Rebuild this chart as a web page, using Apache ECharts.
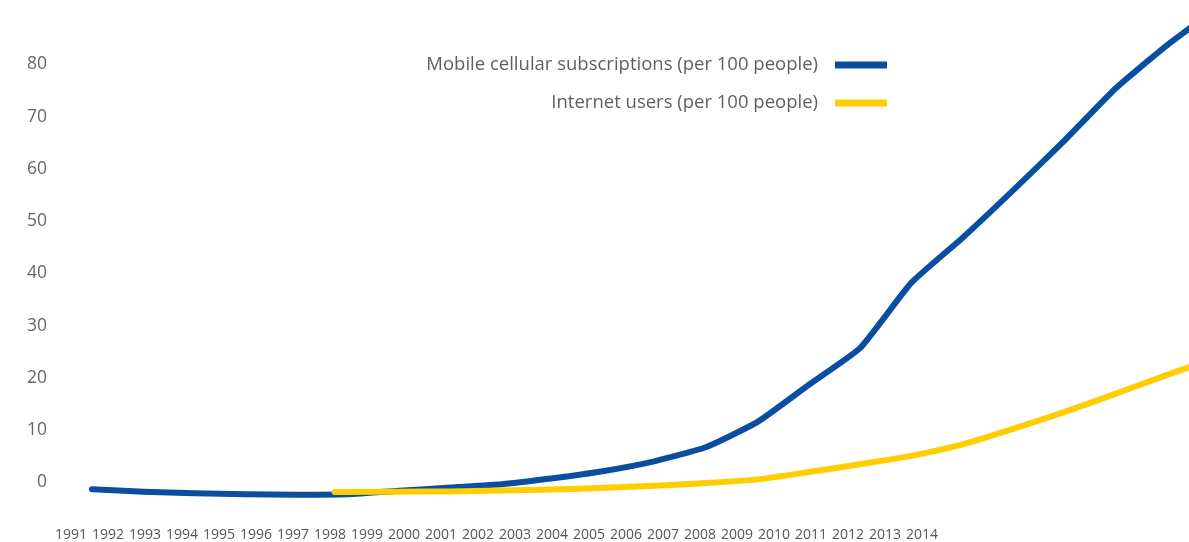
<!DOCTYPE html>
<html>
<head>
<meta charset="utf-8">
<script src="https://cdn.jsdelivr.net/npm/echarts@6/dist/echarts.min.js"></script>
<style>html,body{margin:0;padding:0;background:#fff}#c{width:1189px;height:542px}</style>
</head>
<body>
<div id="c"></div>
<script>
var yearLabels = ['1991','1992','1993','1994','1995','1996','1997','1998','1999','2000','2001','2002','2003','2004','2005','2006','2007','2008','2009','2010','2011','2012','2013','2014'];
var mobileYears = [1991,1992,1993,1994,1995,1996,1997,1998,1999,2000,2001,2002,2003,2004,2005,2006,2007,2008,2009,2010,2011,2012,2013];
var mobileValues = [-1.3,-1.75,-2.05,-2.25,-2.33,-2.25,-1.6,-0.95,-0.35,0.8,2.2,4.1,6.8,11.6,18.7,25.7,38.2,46.8,56,65.5,75.5,83.7,91];
var internetYears = [1995.74,1996,1997,1998,1999,2000,2001,2002,2003,2004,2005,2006,2007,2008,2009,2010,2011,2012,2013];
var internetValues = [-1.8,-1.8,-1.78,-1.7,-1.55,-1.35,-1.0,-0.6,-0.1,0.6,2.0,3.5,5.1,7.3,10.3,13.5,17.0,20.6,24.0];
var yTicks = [0,10,20,30,40,50,60,70,80];

function pairs(xs, ys){ return xs.map(function(x,i){ return [x, ys[i]]; }); }

var chart = echarts.init(document.getElementById('c'));
chart.setOption({
  animation: false,
  textStyle: { fontFamily: 'Open Sans' },
  grid: [
    { left: 92, right: 0, top: 12.25, bottom: 7.25 },
    { left: 52.5, width: 888, top: 520, height: 1 }
  ],
  legend: {
    orient: 'vertical',
    align: 'right',
    right: 297,
    top: 50,
    itemWidth: 52,
    itemHeight: 7,
    itemGap: 18,
    icon: 'rect',
    textStyle: { fontSize: 18.5, color: '#5f5f5f', lineHeight: 20, padding: [0, 12, 0, 0], fontFamily: 'Open Sans' },
    data: ['Mobile cellular subscriptions (per 100 people)', 'Internet users (per 100 people)']
  },
  xAxis: [
    { type: 'value', gridIndex: 0, min: 1991, max: 1991 + 1097/51.2, show: false, splitLine: { show: false } },
    { type: 'category', gridIndex: 1, data: yearLabels, boundaryGap: true,
      axisLine: { show: false }, axisTick: { show: false },
      axisLabel: { fontSize: 14, color: '#555', margin: 8, interval: 0, fontFamily: 'Open Sans' } }
  ],
  yAxis: [
    { type: 'value', gridIndex: 0, min: -10, max: 90, interval: 10,
      axisLine: { show: false }, axisTick: { show: false }, splitLine: { show: false },
      axisLabel: { fontSize: 17.5, color: '#666', margin: 45, padding: [4, 0, 0, 0], fontFamily: 'Open Sans',
        formatter: function(v){ return yTicks.indexOf(v) >= 0 ? String(v) : ''; } } },
    { type: 'value', gridIndex: 1, show: false, splitLine: { show: false } }
  ],
  series: [
    { name: 'Mobile cellular subscriptions (per 100 people)', type: 'line', xAxisIndex: 0, yAxisIndex: 0,
      data: pairs(mobileYears, mobileValues), showSymbol: false, smooth: 0.15, z: 2,
      itemStyle: { color: '#0a4ea2' },
      lineStyle: { color: '#0a4ea2', width: 6, cap: 'round', join: 'round' } },
    { name: 'Internet users (per 100 people)', type: 'line', xAxisIndex: 0, yAxisIndex: 0,
      data: pairs(internetYears, internetValues), showSymbol: false, smooth: 0.2, z: 3,
      itemStyle: { color: '#ffcd00' },
      lineStyle: { color: '#ffcd00', width: 6, cap: 'round', join: 'round' } }
  ]
});
</script>
</body>
</html>
